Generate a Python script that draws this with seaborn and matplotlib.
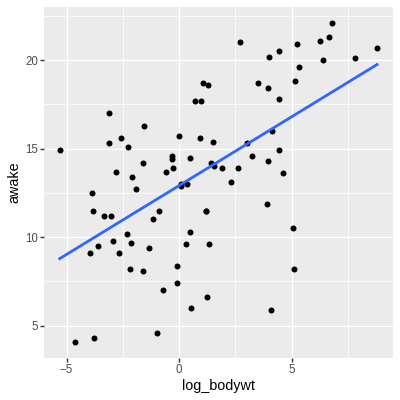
import numpy as np
import pandas as pd
import matplotlib
matplotlib.use("Agg")
import matplotlib.pyplot as plt
import seaborn as sns

# log body weight and hours awake, one value per mammal
log_bodywt = [3.91, -0.73, 0.30, -3.96, 6.40, 1.35, 3.02, -3.10, 2.64, 2.69,
              3.51, -0.32, 1.56, -0.87, -2.81, 0.00, -5.30, 1.25, 1.08, 0.53,
              7.84, -3.77, 6.26, 5.23, -0.26, 2.30, -2.65, 1.19, -1.61, 6.80,
              6.68, 4.44, 0.97, 4.13, 0.51, 8.80, -0.99, 1.92, -2.94, -2.12,
              -3.35, -3.82, -4.61, -1.32, 0.34, -1.56, -3.58, 0.92, 4.02, 3.96,
              5.09, 4.61, 5.08, 3.23, -0.60, 0.10, -3.86, 0.48, 4.45, 3.97,
              0.10, 4.09, 1.28, -1.14, -3.12, -0.30, -2.59, -1.91, -2.10, -0.08,
              -2.29, -1.58, -3.04, 4.46, 1.50, -2.19, 5.34, -0.11, -2.26, 5.16,
              0.69, 1.22, 1.44]
awake = [11.9, 7.0, 9.6, 9.1, 20.0, 9.6, 15.3, 17.0, 13.9, 21.0,
         18.7, 14.6, 14.0, 11.5, 13.7, 15.7, 14.9, 6.6, 18.7, 6.0,
         20.1, 4.3, 21.1, 20.9, 13.9, 13.1, 9.1, 11.5, 14.2, 22.1,
         21.3, 17.8, 17.7, 16.0, 14.5, 20.7, 4.6, 13.9, 9.8, 9.7,
         11.2, 11.5, 4.1, 9.4, 13.0, 16.3, 9.5, 15.6, 20.2, 14.3,
         8.2, 13.6, 10.5, 14.6, 13.7, 13.0, 12.5, 10.3, 20.5, 18.4,
         12.9, 5.9, 18.6, 11.0, 15.3, 14.4, 15.6, 12.7, 13.4, 7.4,
         10.2, 8.1, 11.2, 14.9, 15.4, 8.2, 19.6, 8.4, 15.1, 18.8,
         17.7, 11.5, 14.2]

df = pd.DataFrame({"log_bodywt": log_bodywt, "awake": awake})

plt.rcParams["font.family"] = ["Liberation Sans", "DejaVu Sans"]

fig = plt.figure(figsize=(400 / 72, 400 / 72), dpi=72)
ax = fig.add_axes([0.11, 0.106, 0.872, 0.8765])
ax.set_facecolor("#EBEBEB")

# grid like ggplot
for v in [-2.5, 2.5, 7.5]:
    ax.axvline(v, color="white", lw=0.7, zorder=0)
for v in [7.5, 12.5, 17.5, 22.5]:
    ax.axhline(v, color="white", lw=0.7, zorder=0)
for v in [-5, 0, 5]:
    ax.axvline(v, color="white", lw=1.4, zorder=0)
for v in [5, 10, 15, 20]:
    ax.axhline(v, color="white", lw=1.4, zorder=0)

sns.regplot(data=df, x="log_bodywt", y="awake", ax=ax, ci=None,
            scatter_kws={"s": 36, "color": "black", "alpha": 1,
                         "linewidths": 0, "zorder": 3},
            line_kws={"color": "#3366FF", "lw": 2.8, "zorder": 4})

ax.set_xlim(-6.0, 9.5)
ax.set_ylim(3.2, 23.0)
ax.set_xticks([-5, 0, 5])
ax.set_yticks([5, 10, 15, 20])
for s in ax.spines.values():
    s.set_visible(False)
ax.tick_params(length=3.6, width=1.4, color="#333333", labelcolor="#4D4D4D",
               labelsize=11.5, pad=2.5)
ax.set_xlabel("log_bodywt", fontsize=14.4, color="black", labelpad=3)
ax.set_ylabel("awake", fontsize=14.4, color="black", labelpad=4)
ax.grid(False)

fig.savefig("out.png", dpi=72)
